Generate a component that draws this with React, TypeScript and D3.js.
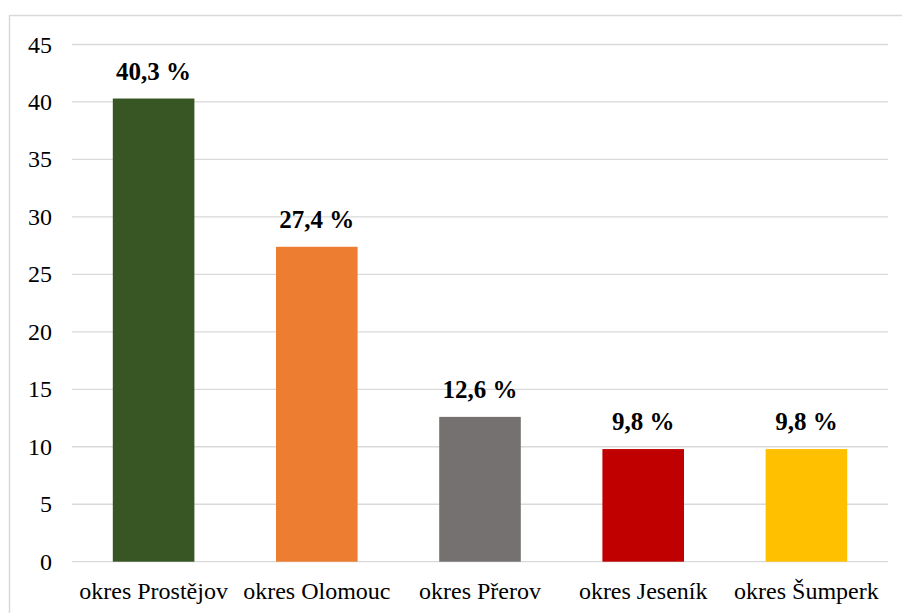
import React from "react";
import * as d3 from "d3";

const categories = ["okres Prostějov", "okres Olomouc", "okres Přerov", "okres Jeseník", "okres Šumperk"];
const values = [40.3, 27.4, 12.6, 9.8, 9.8];
const colors = ["#375623", "#ED7D31", "#767171", "#C00000", "#FFC000"];
const yTicks = [0, 5, 10, 15, 20, 25, 30, 35, 40, 45];

const SERIF = "Liberation Serif, Tinos, Times New Roman, serif";

export default function App() {
  const W = 902, H = 613;
  const left = 72, right = 888, top = 44.5, bottom = 561.7;
  const x = d3.scaleBand<string>().domain(categories).range([left, right]).paddingInner(0.5).paddingOuter(0.25);
  const y = d3.scaleLinear().domain([0, 45]).range([bottom, top]);
  const fmt = (v: number) => v.toFixed(1).replace(".", ",") + " %";
  return (
    <div style={{ position: "absolute", left: 0, top: 0, width: W, height: H, fontFamily: SERIF }}>
      <svg width={W} height={H} style={{ display: "block", background: "#fff" }}>
        <rect x={9.5} y={15.5} width={920} height={640} fill="#fff" stroke="#d9d9d9" strokeWidth={1.5} />
        {yTicks.map((t) => (
          <line key={"g" + t} x1={left} x2={right} y1={y(t)} y2={y(t)} stroke="#d9d9d9" strokeWidth={1.3} />
        ))}
        {categories.map((c, i) => (
          <rect key={"b" + c} x={x(c)} y={y(values[i])} width={x.bandwidth()} height={y(0) - y(values[i])} fill={colors[i]} />
        ))}
        {yTicks.map((t) => (
          <text key={"t" + t} x={52} y={y(t) + 8} textAnchor="end" style={{ fontFamily: SERIF, fontSize: "24px" }} fill="#000">{t}</text>
        ))}
        {categories.map((c, i) => (
          <text key={"v" + c} x={(x(c) as number) + x.bandwidth() / 2} y={y(values[i]) - 19} textAnchor="middle" style={{ fontFamily: SERIF, fontSize: "25px", fontWeight: 700 }} fill="#000">{fmt(values[i])}</text>
        ))}
        {categories.map((c, i) => (
          <text key={"c" + c} x={(x(c) as number) + x.bandwidth() / 2} y={599} textAnchor="middle" style={{ fontFamily: SERIF, fontSize: "24px" }} fill="#000">{c}</text>
        ))}
      </svg>
    </div>
  );
}
